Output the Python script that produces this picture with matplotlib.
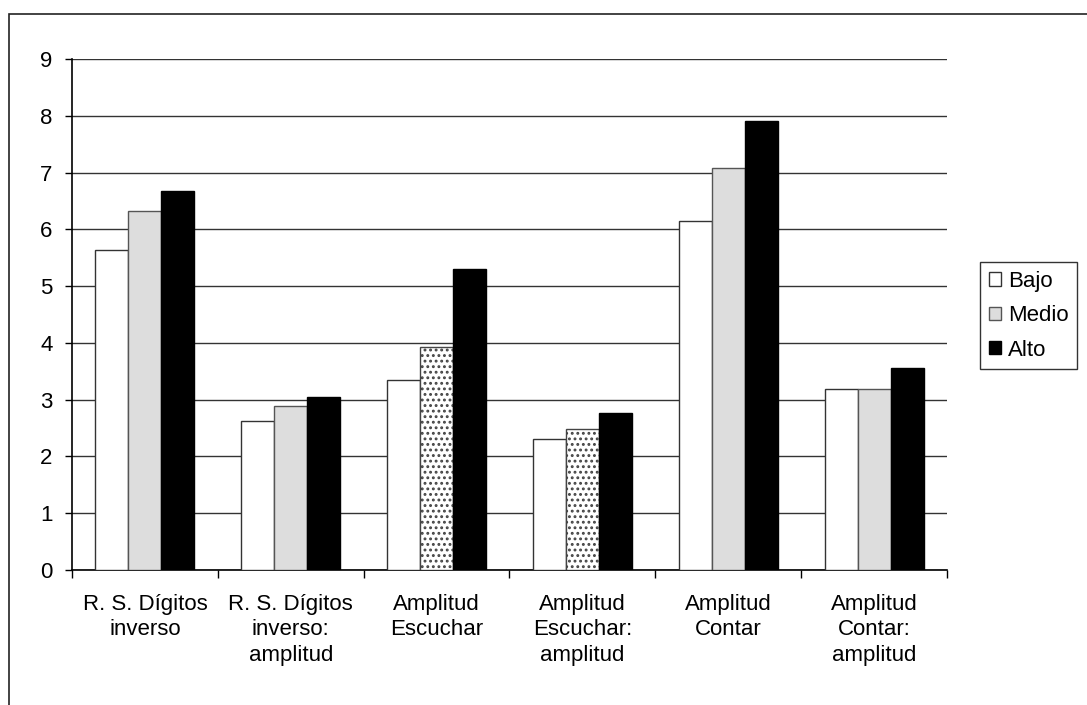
import matplotlib.pyplot as plt
import numpy as np
from matplotlib.patches import Rectangle, Patch

categories = [
    "R. S. Dígitos\ninverso",
    "R. S. Dígitos\ninverso:\namplitud",
    "Amplitud\nEscuchar",
    "Amplitud\nEscuchar:\namplitud",
    "Amplitud\nContar",
    "Amplitud\nContar:\namplitud",
]
bajo = [5.63, 2.62, 3.35, 2.30, 6.15, 3.18]
medio = [6.32, 2.88, 3.93, 2.48, 7.08, 3.18]
alto = [6.67, 3.04, 5.30, 2.76, 7.90, 3.55]
medio_dotted = [False, False, True, True, False, False]

plt.rcParams["font.family"] = ["Liberation Sans", "DejaVu Sans"]
plt.rcParams["hatch.linewidth"] = 1.3

fig = plt.figure(figsize=(10.87, 7.05), dpi=100)
ax = fig.add_axes([0.0662, 0.1915, 0.8050, 0.7248])

# outer frame
fig.patches.append(Rectangle((9 / 1087, -0.2), 1.5, 0.2 + (1 - 14 / 705),
                             transform=fig.transFigure, fill=False,
                             edgecolor="#222222", linewidth=1.2, clip_on=False))

x = np.arange(len(categories))
w = 0.226
ax.bar(x - w, bajo, w, color="white", edgecolor="#333333", linewidth=1.0, zorder=3)
for i, v in enumerate(medio):
    if medio_dotted[i]:
        ax.bar(x[i], v, w, color="white", edgecolor="#444444", hatch="...",
               linewidth=1.0, zorder=3)
    else:
        ax.bar(x[i], v, w, color="#dddddd", edgecolor="#555555", linewidth=1.0, zorder=3)
ax.bar(x + w, alto, w, color="black", edgecolor="black", linewidth=1.0, zorder=3)

ax.set_xlim(-0.5, len(categories) - 0.5)
ax.set_ylim(0, 9)
ax.set_yticks(range(10))
ax.yaxis.grid(True, color="#333333", linewidth=1.0, zorder=0)

ax.set_xticks(np.arange(-0.5, len(categories)), labels=[""] * (len(categories) + 1))
ax.set_xticks(x, labels=categories, minor=True)
ax.tick_params(axis="x", which="major", direction="out", length=6, width=1)
ax.tick_params(axis="x", which="minor", length=0, pad=17, labelsize=16)
ax.tick_params(axis="y", direction="out", length=5, width=1, pad=9, labelsize=16)
for lbl in ax.get_xticklabels(minor=True):
    lbl.set_linespacing(1.28)

for side in ["top", "right"]:
    ax.spines[side].set_visible(False)
ax.spines["left"].set_linewidth(1.2)
ax.spines["bottom"].set_linewidth(1.2)

handles = [
    Patch(facecolor="white", edgecolor="#333333", label="Bajo"),
    Patch(facecolor="#dddddd", edgecolor="#555555", label="Medio"),
    Patch(facecolor="black", edgecolor="black", label="Alto"),
]
leg = fig.legend(handles=handles, loc="upper left", bbox_to_anchor=(980 / 1087, 1 - 262 / 705),
                 fontsize=16, frameon=True, fancybox=False, handlelength=0.55,
                 handleheight=0.55, handletextpad=0.3, borderpad=0.4, labelspacing=0.6,
                 borderaxespad=0)
leg.get_frame().set_edgecolor("black")
leg.get_frame().set_linewidth(1.0)

fig.savefig("out.png", dpi=100)
